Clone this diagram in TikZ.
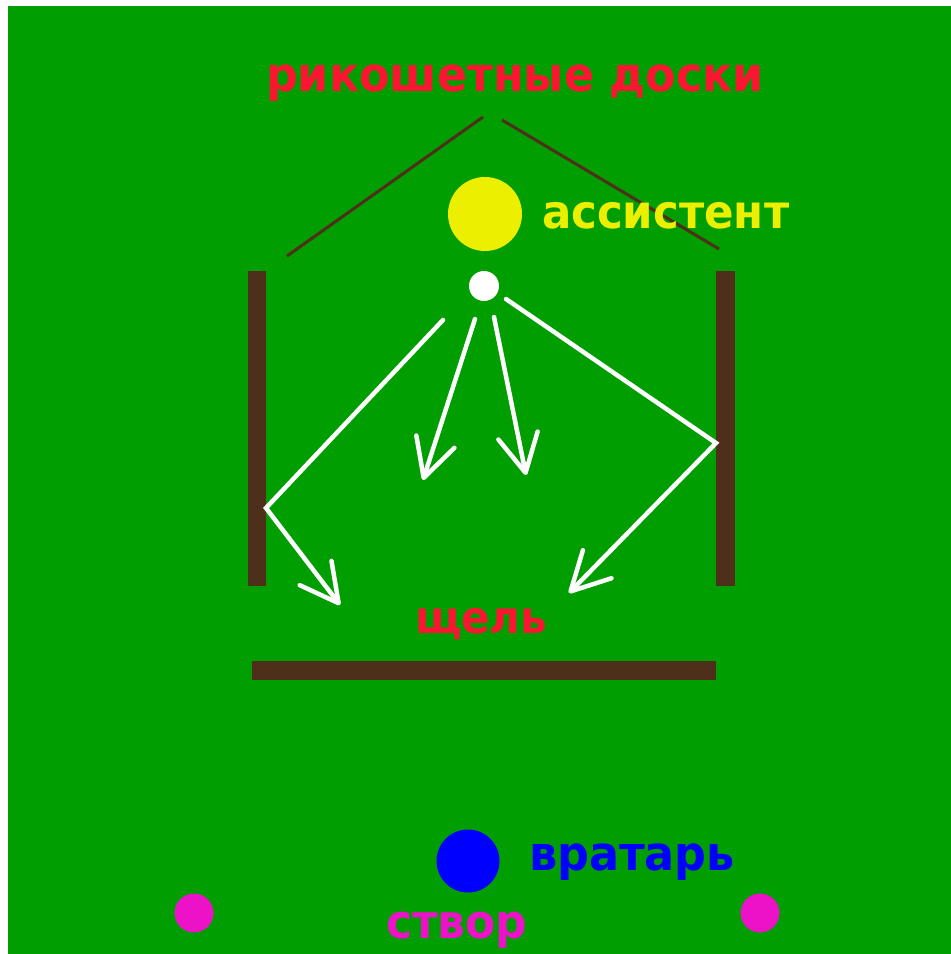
\documentclass[tikz,border=0pt]{standalone}
\usepackage{fontspec}
\setmainfont{DejaVu Sans}
\usetikzlibrary{arrows.meta}
\definecolor{field}{RGB}{0,158,0}
\definecolor{board}{RGB}{78,48,26}
\definecolor{titlered}{RGB}{250,22,48}
\definecolor{asstyellow}{RGB}{236,240,0}
\definecolor{gkblue}{RGB}{0,0,255}
\definecolor{postmag}{RGB}{236,18,200}
\tikzset{
  lbl/.style={inner sep=0pt, outer sep=0pt, anchor=base west, font=\bfseries},
  dot/.style={circle, inner sep=0pt, outer sep=0pt, draw=none},
  pass/.style={draw=white, line width=4.5pt, line cap=round, line join=miter,
    -{Straight Barb[length=38pt, width=40pt, line width=4.5pt, round]}},
  roof/.style={draw=board, line width=3pt},
}
\newcommand{\tall}[1]{\scalebox{1}[1.07]{#1}}
\begin{document}
\begin{tikzpicture}[x=1pt, y=-1pt]
\useasboundingbox (0,0) rectangle (951,954);
\fill[white] (0,0) rectangle (951,954);
\fill[field] (8,6) rectangle (951,954);
% boards
\fill[board] (248,271) rectangle (266,586);
\fill[board] (716,271) rectangle (735,586);
\fill[board] (252,661) rectangle (716,680);
% roof lines
\coordinate (rl1) at (287,256);
\coordinate (rl2) at (483,117);
\coordinate (rr1) at (502,120);
\coordinate (rr2) at (719,249);
\draw[roof] (rl1) -- (rl2);
\draw[roof] (rr1) -- (rr2);
% players
\node[dot, fill=asstyellow, minimum size=74pt] (asst) at (485,214) {};
\node[dot, fill=white, minimum size=30pt] (ball) at (484,286) {};
\node[dot, fill=gkblue, minimum size=63pt] (gk) at (468,861) {};
\node[dot, fill=postmag, minimum size=39pt] (postL) at (194,913) {};
\node[dot, fill=postmag, minimum size=39pt] (postR) at (760,913) {};
% labels
\node[lbl, text=titlered, font=\bfseries\fontsize{44.5}{50}\selectfont] (title) at (266,91) {\tall{рикошетные доски}};
\node[lbl, text=asstyellow, font=\bfseries\fontsize{43.5}{48}\selectfont] (asstl) at (542,228) {\tall{ассистент}};
\node[lbl, text=titlered, font=\bfseries\fontsize{42}{48}\selectfont] (gap) at (415,633) {\tall{щель}};
\node[lbl, text=gkblue, font=\bfseries\fontsize{44.5}{48}\selectfont] (gkl) at (529,870) {\tall{вратарь}};
\node[lbl, text=postmag, font=\bfseries\fontsize{44}{48}\selectfont] (postl) at (386,938) {\tall{створ}};
% pass paths
\coordinate (a1s) at (443,320);
\coordinate (a1b) at (266,508);
\coordinate (a1e) at (340,605);
\coordinate (a2s) at (475,319);
\coordinate (a2e) at (423,480);
\coordinate (a3s) at (494,317);
\coordinate (a3e) at (526,475);
\coordinate (a4s) at (506,299);
\coordinate (a4b) at (716,443);
\coordinate (a4e) at (569,593);
\draw[pass] (a1s) -- (a1b) -- (a1e);
\draw[pass] (a2s) -- (a2e);
\draw[pass] (a3s) -- (a3e);
\draw[pass] (a4s) -- (a4b) -- (a4e);
\end{tikzpicture}
\end{document}
